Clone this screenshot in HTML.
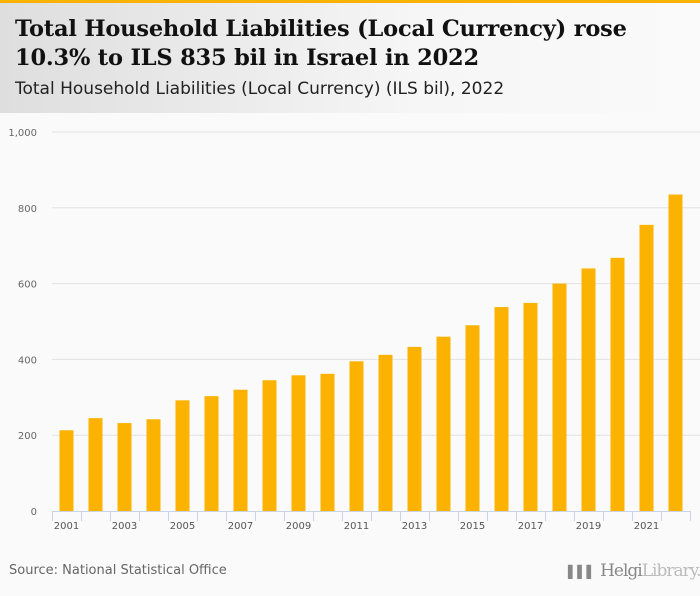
<!DOCTYPE html>
<html><head><meta charset="utf-8"><style>
html,body{margin:0;width:700px;height:596px;overflow:hidden}
body{background:#fafafa;font-family:"DejaVu Sans","Liberation Sans",sans-serif;position:relative}
#topbar{position:absolute;left:0;top:0;width:700px;height:3px;background:#fbb200}
#header{position:absolute;left:0;top:3px;width:700px;height:110px;background:linear-gradient(90deg,#dedede,#f6f6f6 60%,#fafafa)}
#title{position:absolute;left:15px;top:15px;font-family:"DejaVu Serif","Liberation Serif",serif;font-weight:bold;font-size:22.5px;line-height:29px;color:#111;letter-spacing:-0.2px;white-space:nowrap}
#subtitle{position:absolute;left:15px;top:79px;font-size:17px;color:#222;white-space:nowrap}
#source{position:absolute;left:9px;top:563px;font-size:13px;color:#666}
#logo{position:absolute;left:568px;top:561px;font-family:"DejaVu Serif",serif;font-size:17px;line-height:20px;color:#888;letter-spacing:-1px;white-space:nowrap}
</style></head><body>
<div id="topbar"></div>
<div id="header"></div>
<div id="title">Total Household Liabilities (Local Currency) rose<br>10.3% to ILS 835 bil in Israel in 2022</div>
<div id="subtitle">Total Household Liabilities (Local Currency) (ILS bil), 2022</div>
<svg id="chart" width="700" height="596" style="position:absolute;left:0;top:0"></svg>
<div id="source">Source: National Statistical Office</div>
<div id="logo"><span style="font-size:12px;letter-spacing:0;font-family:'DejaVu Sans',sans-serif">▌▌▌</span> Helgi<span style="color:#bbb">Library.</span></div>
<script>
const years=[2001,2002,2003,2004,2005,2006,2007,2008,2009,2010,2011,2012,2013,2014,2015,2016,2017,2018,2019,2020,2021,2022];
const values=[213,245,232,242,292,303,320,345,358,362,395,412,433,460,490,538,549,600,640,668,755,835];
const yTicks=[0,200,400,600,800,1000];
const yTickLabels=["0","200","400","600","800","1,000"];
const svg=document.getElementById('chart');
const NS='http://www.w3.org/2000/svg';
const x0=52,x1=690,y0=511,y1=132,yMax=1000;
const slot=(x1-x0)/years.length;
function yScale(v){return y0-(v/yMax)*(y0-y1);}
function xScale(i){return x0+i*slot;}
function mk(tag,attrs){const e=document.createElementNS(NS,tag);for(const k in attrs)e.setAttribute(k,attrs[k]);svg.appendChild(e);return e;}
yTicks.forEach((t,i)=>{
  if(t>0){const g=mk('line',{x1:x0,x2:x1+10,y1:yScale(t),y2:yScale(t),stroke:'#e2e2e2','stroke-width':1});
  
  }
  const l=mk('text',{x:37,y:yScale(t)+4,'text-anchor':'end','font-size':10,fill:'#666','font-family':'DejaVu Sans, sans-serif'});
  l.textContent=yTickLabels[i];
  
  
});
values.forEach((v,i)=>{
  const cx=xScale(i)+slot/2;
  const r=mk('rect',{x:cx-7,y:yScale(v),width:14,height:y0-yScale(v),fill:'#fbb200'});
  
  
});
const ax=mk('line',{x1:x0,x2:x1,y1:y0+0.5,y2:y0+0.5,stroke:'#c8d3e6','stroke-width':1});


for(let i=0;i<=years.length;i++){
  const tk=mk('line',{x1:xScale(i)+0.5,x2:xScale(i)+0.5,y1:y0,y2:y0+10,stroke:'#c8d3e6','stroke-width':1});
  
  
}
years.forEach((yr,i)=>{
  if(i%2===0){
    const t=mk('text',{x:xScale(i)+slot/2,y:y0+18,'text-anchor':'middle','font-size':10,fill:'#555','font-family':'DejaVu Sans, sans-serif'});
    t.textContent=yr;
    
    
  }
});
</script>
</body></html>
